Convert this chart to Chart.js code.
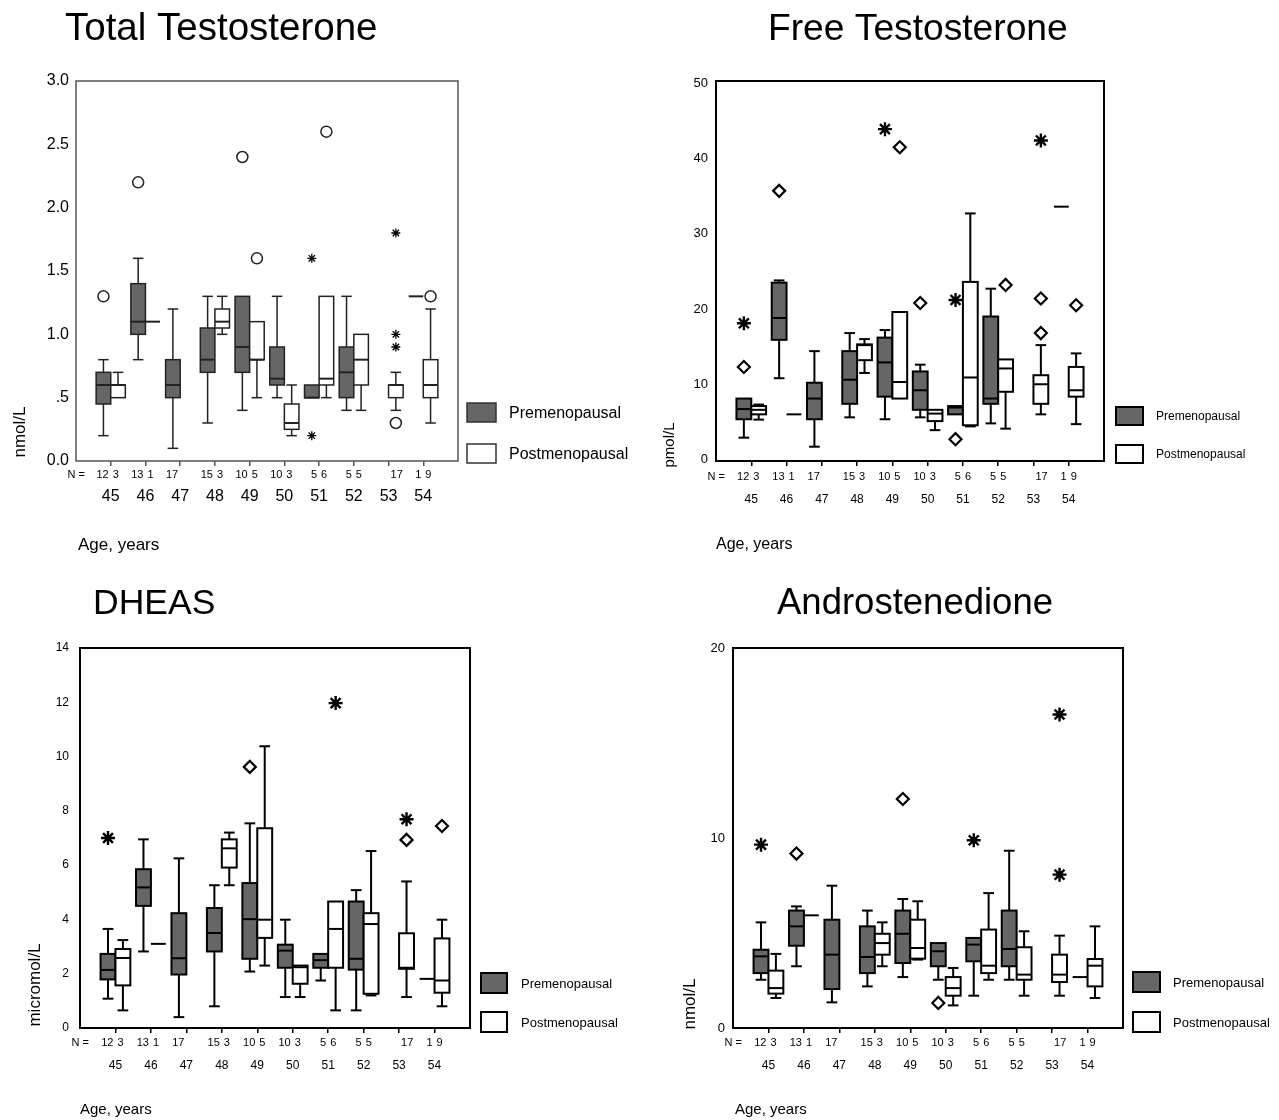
<!DOCTYPE html>
<html><head><meta charset="utf-8">
<script src="https://cdn.jsdelivr.net/npm/chart.js@4.4.1/dist/chart.umd.min.js"></script>
<style>
html,body{margin:0;padding:0;background:#fff;}
#wrap{position:relative;width:1279px;height:1120px;overflow:hidden;background:#fff;}
canvas{position:absolute;}
</style></head><body><div id="wrap">
<canvas id="c1" width="640" height="560" style="left:0;top:0"></canvas>
<canvas id="c2" width="639" height="560" style="left:640px;top:0"></canvas>
<canvas id="c3" width="640" height="560" style="left:0;top:560px"></canvas>
<canvas id="c4" width="639" height="560" style="left:640px;top:560px"></canvas>
</div>
<script>
// ---------------- DATA ----------------
const ages = [45, 46, 47, 48, 49, 50, 51, 52, 53, 54];
const nPre  = [12, 13, 17, 15, 10, 10, 5, 5, null, 1];
const nPost = [3, 1, null, 3, 5, 3, 6, 5, 17, 9];
const seriesNames = ['Premenopausal', 'Postmenopausal'];

// box stats per age: [low whisker, Q1, median, Q3, high whisker]
const totalPre = [
  [0.2, 0.45, 0.6, 0.7, 0.8], [0.8, 1.0, 1.1, 1.4, 1.6], [0.1, 0.5, 0.6, 0.8, 1.2],
  [0.3, 0.7, 0.8, 1.05, 1.3], [0.4, 0.7, 0.9, 1.3, 1.3], [0.5, 0.6, 0.65, 0.9, 1.3],
  [0.5, 0.5, 0.5, 0.6, 0.6], [0.4, 0.5, 0.7, 0.9, 1.3], null, [1.3, 1.3, 1.3, 1.3, 1.3]];
const totalPost = [
  [0.5, 0.5, 0.6, 0.6, 0.7], [1.1, 1.1, 1.1, 1.1, 1.1], null,
  [1.0, 1.05, 1.1, 1.2, 1.3], [0.5, 0.8, 0.8, 1.1, 1.1], [0.2, 0.25, 0.3, 0.45, 0.6],
  [0.5, 0.6, 0.65, 1.3, 1.3], [0.4, 0.6, 0.8, 1.0, 1.0], [0.4, 0.5, 0.6, 0.6, 0.7],
  [0.3, 0.5, 0.6, 0.8, 1.2]];
// outliers: [age, group(0 pre / 1 post), value]
const totalCircles = [[45,0,1.3],[46,0,2.2],[49,0,2.4],[49,1,1.6],[51,1,2.6],[53,1,0.3],[54,1,1.3]];
const totalStars   = [[51,0,1.6],[51,0,0.2],[53,1,1.8],[53,1,1.0],[53,1,0.9]];
const totalTicks = [0, 0.5, 1, 1.5, 2, 2.5, 3];
const totalTickLabels = ['0.0', '.5', '1.0', '1.5', '2.0', '2.5', '3.0'];

const freePre = [
  [2.9, 5.35, 6.7, 8.1, 8.1], [10.8, 15.9, 18.8, 23.5, 23.8], [1.7, 5.35, 8.1, 10.2, 14.4],
  [5.6, 7.4, 10.6, 14.4, 16.8], [5.35, 8.35, 12.9, 16.2, 17.2], [5.6, 6.6, 9.2, 11.7, 12.6],
  [6.0, 6.0, 6.9, 7.1, 7.1], [4.8, 7.4, 8.1, 19.0, 22.7], null, [33.6, 33.6, 33.6, 33.6, 33.6]];
const freePost = [
  [5.3, 6.0, 6.6, 7.1, 7.3], [6.0, 6.0, 6.0, 6.0, 6.0], null,
  [11.5, 13.2, 15.2, 15.3, 16.0], [8.1, 8.1, 10.3, 19.6, 19.6], [3.9, 5.1, 6.1, 6.6, 6.6],
  [4.4, 4.55, 10.9, 23.6, 32.7], [4.1, 9.0, 12.1, 13.3, 13.3], [6.0, 7.4, 10.0, 11.2, 15.2],
  [4.7, 8.35, 9.2, 12.3, 14.1]];
const freeDiamonds = [[45,0,12.3],[46,0,35.7],[50,0,20.8],[51,0,2.7],[49,1,41.5],[52,1,23.2],[53,1,21.4],[53,1,16.8],[54,1,20.5]];
const freeStars    = [[45,0,18.1],[49,0,43.9],[51,0,21.2],[53,1,42.4]];
const freeTicks = [0, 10, 20, 30, 40, 50];

const dheasPre = [
  [1.08, 1.79, 2.14, 2.73, 3.65], [2.82, 4.5, 5.18, 5.85, 6.95], [0.4, 1.97, 2.57, 4.23, 6.25],
  [0.8, 2.82, 3.5, 4.42, 5.26], [2.08, 2.55, 4.01, 5.34, 7.54], [1.14, 2.22, 2.85, 3.07, 3.99],
  [1.75, 2.22, 2.5, 2.73, 2.73], [0.65, 2.15, 2.55, 4.66, 5.08], null, [1.81, 1.81, 1.81, 1.81, 1.81]];
const dheasPost = [
  [0.65, 1.57, 2.58, 2.91, 3.24], [3.1, 3.1, 3.1, 3.1, 3.1], null,
  [5.26, 5.91, 6.62, 6.95, 7.2], [2.3, 3.32, 3.99, 7.36, 10.38], [1.14, 1.63, 2.24, 2.3, 2.3],
  [0.65, 2.22, 3.65, 4.66, 4.66], [1.2, 1.26, 3.83, 4.23, 6.52], [1.14, 2.18, 2.22, 3.49, 5.4],
  [0.8, 1.3, 1.75, 3.3, 3.99]];
const dheasDiamonds = [[49,0,9.62],[53,1,6.93],[54,1,7.44]];
const dheasStars    = [[45,0,7.0],[51,1,11.97],[53,1,7.69]];
const dheasTicks = [0, 2, 4, 6, 8, 10, 12, 14];

const androPre = [
  [2.54, 2.89, 3.77, 4.12, 5.56], [3.25, 4.33, 5.35, 6.18, 6.4], [1.35, 2.05, 3.86, 5.7, 7.49],
  [2.19, 2.89, 3.74, 5.35, 6.18], [2.68, 3.42, 4.96, 6.18, 6.79], [2.54, 3.25, 4.04, 4.47, 4.47],
  [1.7, 3.51, 4.39, 4.74, 4.74], [2.54, 3.25, 4.16, 6.18, 9.33], null, [2.68, 2.68, 2.68, 2.68, 2.68]];
const androPost = [
  [1.58, 1.81, 2.1, 3.02, 3.9], [5.93, 5.93, 5.93, 5.93, 5.93], null,
  [3.25, 3.86, 4.47, 4.96, 5.56], [3.6, 3.65, 4.21, 5.7, 6.67], [1.19, 1.7, 2.1, 2.68, 3.16],
  [2.54, 2.89, 3.28, 5.18, 7.1], [1.7, 2.54, 2.81, 4.25, 5.09], [1.7, 2.42, 2.81, 3.86, 4.86],
  [1.58, 2.19, 3.28, 3.63, 5.35]];
const androDiamonds = [[46,0,9.18],[49,0,12.05],[50,0,1.32]];
const androStars    = [[45,0,9.65],[51,0,9.88],[53,1,16.5],[53,1,8.07]];
const androTicks = [0, 10, 20];

// ---------------- RENDERING ----------------
const FONT = '"Liberation Sans", Arial, Helvetica, sans-serif';
const BOXW = 0.42;   // box width in x-axis units
const PRE_FILL = '#666666';

function outlierPoints(list) {
  return list.map(([a, g, v]) => ({x: g === 0 ? a - BOXW / 2 : a + BOXW / 2, y: v}));
}

function makePanel(P) {
  const plugin = {
    id: 'panel_' + P.id,
    beforeDatasetsDraw(chart) {
      const {ctx, scales: {x, y}} = chart;
      ctx.save();
      const groups = [[P.pre, -1, PRE_FILL], [P.post, 1, '#ffffff']];
      groups.forEach(([arr, side, fill]) => {
        arr.forEach((s, i) => {
          if (!s) return;
          const age = ages[i];
          const x0 = x.getPixelForValue(side < 0 ? age - BOXW : age);
          const x1 = x.getPixelForValue(side < 0 ? age : age + BOXW);
          const xc = (x0 + x1) / 2;
          const [lo, q1, md, q3, hi] = s.map(v => y.getPixelForValue(v));
          const capH = (x1 - x0) * 0.36;
          ctx.strokeStyle = P.stroke;
          ctx.lineWidth = P.lw;
          ctx.lineCap = 'butt';
          const line = (ax, ay, bx, by) => { ctx.beginPath(); ctx.moveTo(ax, ay); ctx.lineTo(bx, by); ctx.stroke(); };
          if (hi < q3 - 0.5) { line(xc, q3, xc, hi); line(xc - capH, hi, xc + capH, hi); }
          if (lo > q1 + 0.5) { line(xc, q1, xc, lo); line(xc - capH, lo, xc + capH, lo); }
          if (Math.abs(q1 - q3) > 0.5) {
            ctx.fillStyle = fill;
            ctx.fillRect(x0, q3, x1 - x0, q1 - q3);
            ctx.strokeRect(x0, q3, x1 - x0, q1 - q3);
          }
          ctx.lineWidth = P.medLw;
          line(x0, md, x1, md);
        });
      });
      ctx.restore();
    },
    afterDraw(chart) {
      const {ctx, chartArea: A, scales: {x}} = chart;
      ctx.save();
      // frame
      ctx.strokeStyle = P.frame; ctx.lineWidth = P.frameLw;
      ctx.strokeRect(A.left, A.top, A.right - A.left, A.bottom - A.top);
      ctx.fillStyle = '#000';
      // title
      ctx.font = P.titleSize + 'px ' + FONT;
      ctx.textAlign = 'left'; ctx.textBaseline = 'alphabetic';
      ctx.fillText(P.title, P.titleX, P.titleY);
      // y-axis title
      ctx.save();
      ctx.translate(P.yTitleX, P.yTitleY);
      ctx.rotate(-Math.PI / 2);
      ctx.font = P.yTitleSize + 'px ' + FONT;
      ctx.textAlign = 'center'; ctx.textBaseline = 'middle';
      ctx.fillText(P.yTitle, 0, 0);
      ctx.restore();
      // N row
      ctx.font = P.nSize + 'px ' + FONT;
      ctx.textBaseline = 'middle';
      ctx.textAlign = 'right';
      ctx.fillText('N =', P.nLabelX, P.nY);
      ages.forEach((a, i) => {
        const px = x.getPixelForValue(a);
        if (nPre[i] != null) { ctx.textAlign = 'right'; ctx.fillText(String(nPre[i]), px - 2, P.nY); }
        if (nPost[i] != null) { ctx.textAlign = 'left'; ctx.fillText(String(nPost[i]), px + 2, P.nY); }
      });
      // x-axis title
      ctx.font = P.xTitleSize + 'px ' + FONT;
      ctx.textAlign = 'left';
      ctx.fillText('Age, years', P.xTitleX, P.xTitleY);
      // legend
      const fills = [PRE_FILL, '#ffffff'];
      P.legY.forEach((ly, k) => {
        ctx.fillStyle = fills[k];
        ctx.fillRect(P.legX, ly, P.legW, P.legH);
        ctx.strokeStyle = P.legStroke; ctx.lineWidth = P.legLw;
        ctx.strokeRect(P.legX, ly, P.legW, P.legH);
        ctx.fillStyle = '#000';
        ctx.font = P.legSize + 'px ' + FONT;
        ctx.textAlign = 'left'; ctx.textBaseline = 'middle';
        ctx.fillText(seriesNames[k], P.legTextX, ly + P.legH / 2 + 1);
      });
      ctx.restore();
    }
  };

  const datasets = [];
  if (P.circles) datasets.push({data: outlierPoints(P.circles), pointStyle: 'circle', pointRadius: P.circleR, borderColor: P.stroke, backgroundColor: '#fff', borderWidth: P.circleLw});
  if (P.diamonds) datasets.push({data: outlierPoints(P.diamonds), pointStyle: 'rectRot', pointRadius: P.diamondR, borderColor: '#000', backgroundColor: '#fff', borderWidth: P.diamondLw});
  if (P.stars) datasets.push({data: outlierPoints(P.stars), pointStyle: 'star', pointRadius: P.starR, borderColor: '#000', backgroundColor: '#000', borderWidth: P.starLw});

  const A = P.area;
  const xLine = P.ageSize * 1.2;
  new Chart(document.getElementById(P.id), {
    type: 'scatter',
    data: {datasets},
    options: {
      responsive: false, animation: false, events: [],
      layout: {padding: {left: 0, top: A.t, right: P.W - A.r, bottom: 0}},
      plugins: {legend: {display: false}, tooltip: {enabled: false}, title: {display: false}},
      scales: {
        x: {
          type: 'linear', min: 44, max: 55,
          afterFit(s) { s.height = P.H - A.b; },
          afterBuildTicks(s) { s.ticks = ages.map(v => ({value: v})); },
          grid: {display: true, drawOnChartArea: false, drawTicks: true, tickLength: 5, color: P.frame, lineWidth: 1.5},
          border: {display: false},
          ticks: {autoSkip: false, maxRotation: 0, padding: P.ageY - A.b - 5 - xLine / 2,
                  font: {size: P.ageSize, family: FONT}, color: '#000', callback: v => String(v)}
        },
        y: {
          type: 'linear', min: P.yMin, max: P.yMax,
          afterFit(s) { s.width = A.l; },
          afterBuildTicks(s) { s.ticks = P.yTicks.map(v => ({value: v})); },
          grid: {display: false, drawTicks: false},
          border: {display: false},
          ticks: {padding: P.yPad, font: {size: P.yTickSize, family: FONT}, color: '#000',
                  callback: v => P.yLabels ? P.yLabels[P.yTicks.indexOf(v)] : String(v)}
        }
      }
    },
    plugins: [plugin]
  });
}

makePanel({
  id: 'c1', W: 640, H: 560, area: {l: 76, t: 81, r: 458, b: 461},
  yMin: 0, yMax: 3, yTicks: totalTicks, yLabels: totalTickLabels, yTickSize: 16, yPad: 7,
  pre: totalPre, post: totalPost, circles: totalCircles, stars: totalStars,
  circleR: 5.5, circleLw: 1.5, starR: 4.5, starLw: 1.3,
  stroke: '#222', lw: 1.5, medLw: 2, frame: '#555', frameLw: 1.5,
  title: 'Total Testosterone', titleX: 65, titleY: 40, titleSize: 38.5,
  yTitle: 'nmol/L', yTitleX: 20, yTitleY: 432, yTitleSize: 17,
  nSize: 11, nY: 475, nLabelX: 85, ageY: 497, ageSize: 16,
  xTitleX: 78, xTitleY: 545, xTitleSize: 17,
  legX: 467, legY: [403, 444], legW: 29, legH: 19, legTextX: 509, legSize: 16, legStroke: '#333', legLw: 1.5
});

makePanel({
  id: 'c2', W: 639, H: 560, area: {l: 76, t: 81, r: 464, b: 461},
  yMin: -0.2, yMax: 50.3, yTicks: freeTicks, yTickSize: 13, yPad: 8,
  pre: freePre, post: freePost, diamonds: freeDiamonds, stars: freeStars,
  diamondR: 6, diamondLw: 2.2, starR: 7, starLw: 2.4,
  stroke: '#000', lw: 2, medLw: 2, frame: '#000', frameLw: 2,
  title: 'Free Testosterone', titleX: 128, titleY: 40, titleSize: 37.2,
  yTitle: 'pmol/L', yTitleX: 30, yTitleY: 445, yTitleSize: 15,
  nSize: 11, nY: 477, nLabelX: 85, ageY: 500, ageSize: 12,
  xTitleX: 76, xTitleY: 545, xTitleSize: 16,
  legX: 476, legY: [407, 445], legW: 27, legH: 18, legTextX: 516, legSize: 12, legStroke: '#000', legLw: 2
});

makePanel({
  id: 'c3', W: 640, H: 560, area: {l: 80, t: 88, r: 470, b: 468},
  yMin: 0, yMax: 14, yTicks: dheasTicks, yTickSize: 12, yPad: 11,
  pre: dheasPre, post: dheasPost, diamonds: dheasDiamonds, stars: dheasStars,
  diamondR: 6, diamondLw: 2.2, starR: 7, starLw: 2.4,
  stroke: '#000', lw: 2, medLw: 2, frame: '#000', frameLw: 2,
  title: 'DHEAS', titleX: 93, titleY: 54, titleSize: 35.5,
  yTitle: 'micromol/L', yTitleX: 35, yTitleY: 425, yTitleSize: 17,
  nSize: 11, nY: 483, nLabelX: 89, ageY: 506, ageSize: 12,
  xTitleX: 80, xTitleY: 550, xTitleSize: 15,
  legX: 481, legY: [413, 452], legW: 26, legH: 20, legTextX: 521, legSize: 13, legStroke: '#000', legLw: 2
});

makePanel({
  id: 'c4', W: 639, H: 560, area: {l: 93, t: 88, r: 483, b: 468},
  yMin: 0, yMax: 20, yTicks: androTicks, yTickSize: 13, yPad: 8,
  pre: androPre, post: androPost, diamonds: androDiamonds, stars: androStars,
  diamondR: 6, diamondLw: 2.2, starR: 7, starLw: 2.4,
  stroke: '#000', lw: 2, medLw: 2, frame: '#000', frameLw: 2,
  title: 'Androstenedione', titleX: 137, titleY: 54, titleSize: 36.5,
  yTitle: 'nmol/L', yTitleX: 50, yTitleY: 444, yTitleSize: 17,
  nSize: 11, nY: 483, nLabelX: 102, ageY: 506, ageSize: 12,
  xTitleX: 95, xTitleY: 550, xTitleSize: 15,
  legX: 493, legY: [412, 452], legW: 27, legH: 20, legTextX: 533, legSize: 13, legStroke: '#000', legLw: 2
});
</script>
</body></html>
